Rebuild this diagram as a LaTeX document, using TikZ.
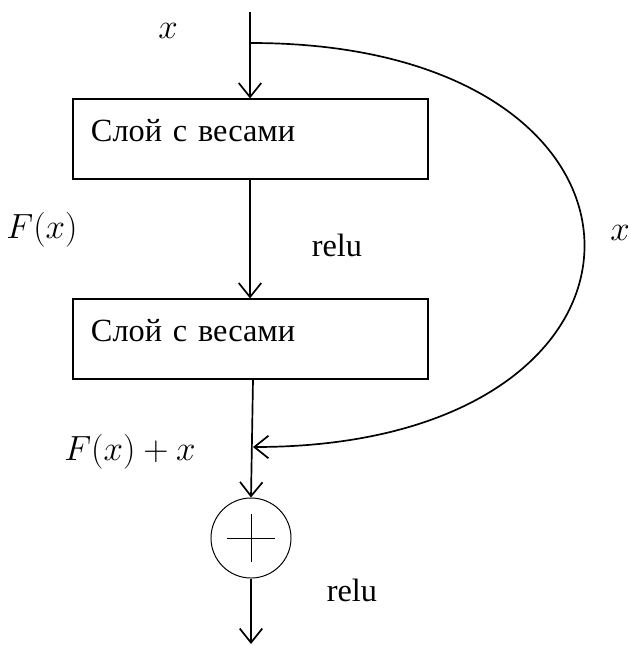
\documentclass[tikz,border=0pt]{standalone}
\usepackage{fontspec}
\setmainfont{Liberation Serif}
\usetikzlibrary{arrows.meta}

\begin{document}
\begin{tikzpicture}[x=0.025cm, y=-0.025cm, font=\fontsize{23}{28}\selectfont,
  layer/.style={draw, line width=0.8pt, inner xsep=0.45cm, text width=7.975cm, align=left, minimum height=2cm, text depth=0.45cm},
  flow/.style={line width=1.2pt, -{Straight Barb[length=10pt, width=16pt]}}]
\useasboundingbox (0,0) rectangle (630,646);
\coordinate (top) at (250,12);
\coordinate (branch) at (251,43);
\coordinate (join) at (253,447);
\coordinate (out) at (251,644);
\node[layer] (box1) at (250.5,139) {Слой с весами};
\node[layer] (box2) at (250.5,339) {Слой с весами};
\node[draw, circle, line width=0.7pt, minimum size=2cm] (sum) at (251,538) {};
\draw[flow] (top) -- (top |- box1.north);
\draw[flow] (box1.south -| top) -- (box2.north -| top);
\draw[flow] (box2.south -| join) -- (sum.north);
\draw[flow] (sum.south) -- (out);
\draw[flow] (branch) .. controls (695,43) and (695,447) .. (join);
\draw[line width=0.7pt] (sum.center) +(-24,0) -- +(24,0) (sum.center) +(0,-24) -- +(0,24);
\node (xin) at (168,31) {$x$};
\node (fx) at (42,230) {$F(x)$};
\node (relu1) at (337,245) {relu};
\node (xskip) at (620,233) {$x$};
\node (fxsum) at (130,452) {$F(x)+x$};
\node (relu2) at (352,590) {relu};
\end{tikzpicture}
\end{document}
